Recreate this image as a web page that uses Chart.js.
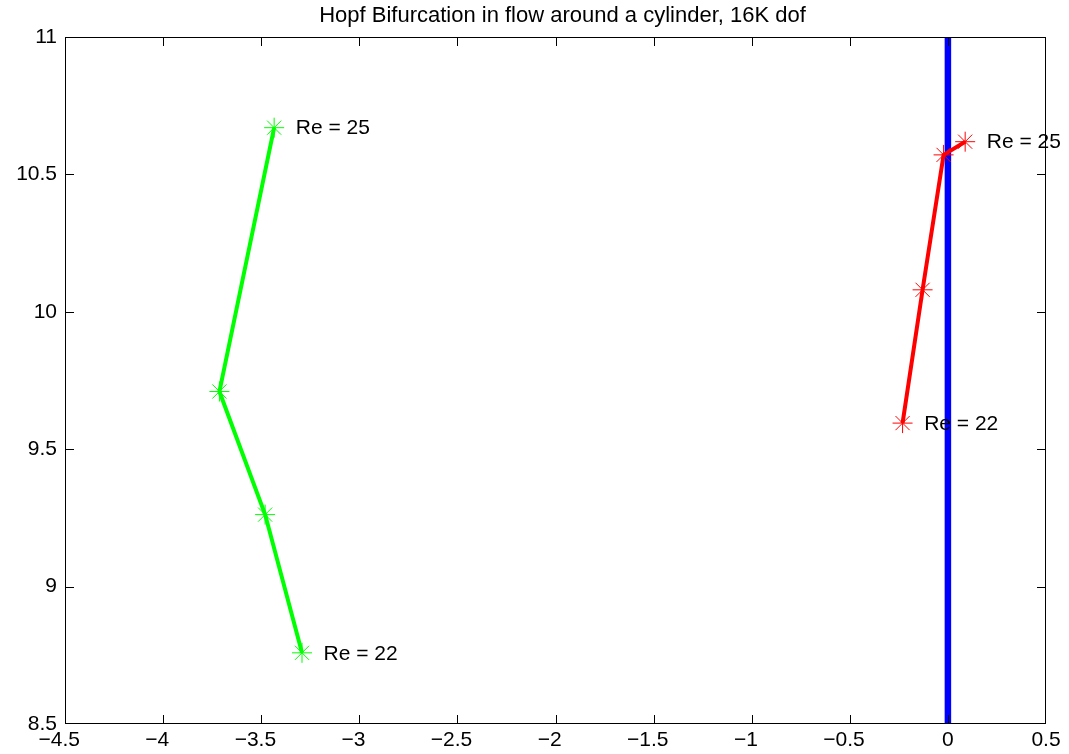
<!DOCTYPE html>
<html>
<head>
<meta charset="utf-8">
<script src="https://cdn.jsdelivr.net/npm/chart.js@4/dist/chart.umd.min.js"></script>
<style>
  html, body { margin: 0; padding: 0; background: #fff; }
  #wrap { width: 1069px; height: 754px; }
</style>
</head>
<body>
<div id="wrap"><canvas id="c" width="1069" height="754"></canvas></div>
<script>
const titleText = "Hopf Bifurcation in flow around a cylinder, 16K dof";
const reynolds = [22, 23, 24, 25];
const greenX = [-3.292, -3.480, -3.713, -3.434];
const greenY = [8.759, 9.262, 9.710, 10.670];
const redX = [-0.231, -0.129, -0.022, 0.088];
const redY = [9.595, 10.080, 10.571, 10.619];
const axisX = [0, 0];
const axisY = [8.5, 11];
const xTicks = [-4.5, -4, -3.5, -3, -2.5, -2, -1.5, -1, -0.5, 0, 0.5];
const yTicks = [8.5, 9, 9.5, 10, 10.5, 11];
const labelShift = 0.11;

const FONT = "'Liberation Sans', Arial, Helvetica, sans-serif";
const FS = 21;
const pts = (xs, ys) => xs.map((x, i) => ({ x: x, y: ys[i] }));
const fmtX = v => (v < 0 ? "\u2212" + String(Math.abs(v)) + "  " : String(v));
const fmtY = v => String(v);

const boxPlugin = {
  id: 'box',
  afterDatasetsDraw(chart) {
    const { ctx, chartArea: a, scales } = chart;
    ctx.save();
    ctx.strokeStyle = '#000';
    ctx.lineWidth = 1;
    ctx.strokeRect(a.left + 0.5, a.top + 0.5, a.right - a.left - 1, a.bottom - a.top - 1);
    const L = 9;
    ctx.beginPath();
    xTicks.forEach(v => {
      const px = Math.min(Math.round(scales.x.getPixelForValue(v)), a.right - 1) + 0.5;
      ctx.moveTo(px, a.bottom); ctx.lineTo(px, a.bottom - L);
      ctx.moveTo(px, a.top); ctx.lineTo(px, a.top + L);
    });
    yTicks.forEach(v => {
      const py = Math.min(Math.round(scales.y.getPixelForValue(v)), a.bottom - 1) + 0.5;
      ctx.moveTo(a.left, py); ctx.lineTo(a.left + L, py);
      ctx.moveTo(a.right, py); ctx.lineTo(a.right - L, py);
    });
    ctx.stroke();
    // title
    ctx.fillStyle = '#000';
    ctx.textBaseline = 'middle';
    ctx.textAlign = 'center';
    ctx.font = '22px ' + FONT;
    ctx.fillText(titleText, (a.left + a.right) / 2 + 7, 16);
    // text annotations
    ctx.font = FS + 'px ' + FONT;
    ctx.textAlign = 'left';
    const last = reynolds.length - 1;
    [[greenX, greenY], [redX, redY]].forEach(([xs, ys]) => {
      [0, last].forEach(i => {
        const px = scales.x.getPixelForValue(xs[i] + labelShift);
        const py = scales.y.getPixelForValue(ys[i]);
        ctx.fillText('Re = ' + reynolds[i], px, py + 1);
      });
    });
    ctx.restore();
  }
};

new Chart(document.getElementById('c'), {
  type: 'scatter',
  data: {
    datasets: [
      {
        data: pts(axisX, axisY), showLine: true, borderColor: '#0000ff', borderWidth: 6.5,
        pointRadius: 0, order: 3
      },
      {
        data: pts(greenX, greenY), showLine: true, borderColor: '#00ff00', borderWidth: 4,
        pointStyle: 'star', pointRadius: 10, pointBorderWidth: 1, pointBorderColor: '#00ff00',
        pointBackgroundColor: '#00ff00', order: 2
      },
      {
        data: pts(redX, redY), showLine: true, borderColor: '#ff0000', borderWidth: 4,
        pointStyle: 'star', pointRadius: 10, pointBorderWidth: 1, pointBorderColor: '#ff0000',
        pointBackgroundColor: '#ff0000', order: 1
      }
    ]
  },
  options: {
    responsive: false,
    animation: false,
    layout: { padding: { left: 0, right: 23, top: 37, bottom: 0 } },
    plugins: {
      legend: { display: false },
      tooltip: { enabled: false },
      title: { display: false }
    },
    scales: {
      x: {
        type: 'linear', min: -4.5, max: 0.5,
        afterBuildTicks: s => { s.ticks = xTicks.map(v => ({ value: v })); },
        afterFit: s => { s.height = 30; },
        grid: { display: false, drawTicks: false },
        border: { display: false },
        ticks: { color: '#000', padding: 4, maxRotation: 0, autoSkip: false,
                 font: { family: FONT, size: FS }, callback: v => fmtX(v) }
      },
      y: {
        type: 'linear', min: 8.5, max: 11,
        afterBuildTicks: s => { s.ticks = yTicks.map(v => ({ value: v })); },
        afterFit: s => { s.width = 65; },
        grid: { display: false, drawTicks: false },
        border: { display: false },
        ticks: { color: '#000', padding: 8, autoSkip: false,
                 font: { family: FONT, size: FS }, callback: v => fmtY(v) }
      }
    }
  },
  plugins: [boxPlugin]
});
</script>
</body>
</html>
